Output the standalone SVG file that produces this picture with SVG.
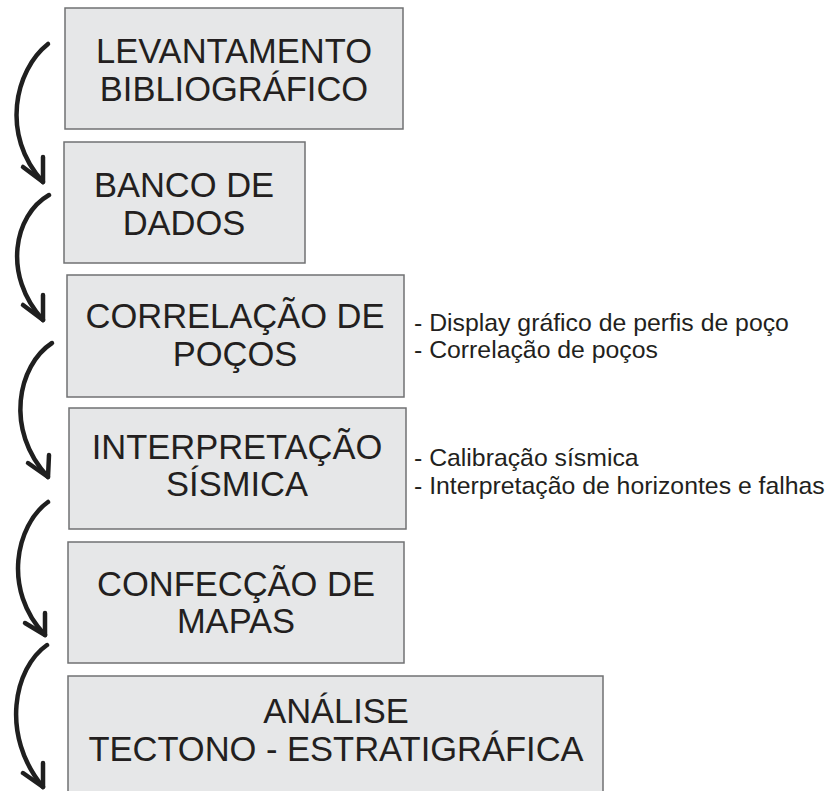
<svg xmlns="http://www.w3.org/2000/svg" width="827" height="791" viewBox="0 0 827 791">
<style>
.box{fill:#e6e7e8;stroke:#707173;stroke-width:1.5}
.t{font-family:"Liberation Sans",Arial,sans-serif;font-size:34.5px;fill:#231f20;text-anchor:middle}
.s{font-family:"Liberation Sans",Arial,sans-serif;font-size:24.8px;fill:#231f20}
.arr{fill:none;stroke:#1f1f1f;stroke-width:4.5;stroke-linecap:round;stroke-linejoin:round}
</style>
<rect width="827" height="791" fill="#ffffff"/>
<g id="n1"><rect class="box" x="65" y="8" width="338" height="121"/><text class="t" x="234" y="63">LEVANTAMENTO</text><text class="t" x="234" y="101">BIBLIOGRÁFICO</text></g>
<g id="n2"><rect class="box" x="64" y="142" width="241" height="121"/><text class="t" x="184" y="197">BANCO DE</text><text class="t" x="184" y="235">DADOS</text></g>
<g id="n3"><rect class="box" x="67" y="275" width="337" height="122"/><text class="t" x="235" y="328">CORRELAÇÃO DE</text><text class="t" x="235" y="366">POÇOS</text></g>
<g id="n4"><rect class="box" x="69" y="408" width="337" height="121"/><text class="t" x="237" y="459">INTERPRETAÇÃO</text><text class="t" x="237" y="496">SÍSMICA</text></g>
<g id="n5"><rect class="box" x="68" y="542" width="336" height="121"/><text class="t" x="236" y="596">CONFECÇÃO DE</text><text class="t" x="236" y="633">MAPAS</text></g>
<g id="n6"><rect class="box" x="68" y="676" width="535" height="130"/><text class="t" x="336" y="723">ANÁLISE</text><text class="t" x="336" y="761">TECTONO - ESTRATIGRÁFICA</text></g>
<g id="notes3"><text class="s" x="414" y="331">- Display gráfico de perfis de poço</text><text class="s" x="414" y="358">- Correlação de poços</text></g>
<g id="notes4"><text class="s" x="414" y="466">- Calibração sísmica</text><text class="s" x="414" y="494">- Interpretação de horizontes e falhas</text></g>
<g id="connectors">
<path class="arr" d="M48,44 C15,70 0,135 43,182"/><path class="arr" d="M23,167 L43,182 L43,157"/>
<path class="arr" d="M49,195 C14,215 2,275 43,320"/><path class="arr" d="M23,305 L43,320 L43,295"/>
<path class="arr" d="M52,343 C18,365 4,430 48,477"/><path class="arr" d="M28,463 L48,477 L49,455"/>
<path class="arr" d="M48,502 C16,525 2,590 45,635"/><path class="arr" d="M25,623 L45,635 L45,613"/>
<path class="arr" d="M47,645 C14,668 0,735 43,787"/><path class="arr" d="M23,773 L43,787 L43,763"/>
</g>
</svg>
